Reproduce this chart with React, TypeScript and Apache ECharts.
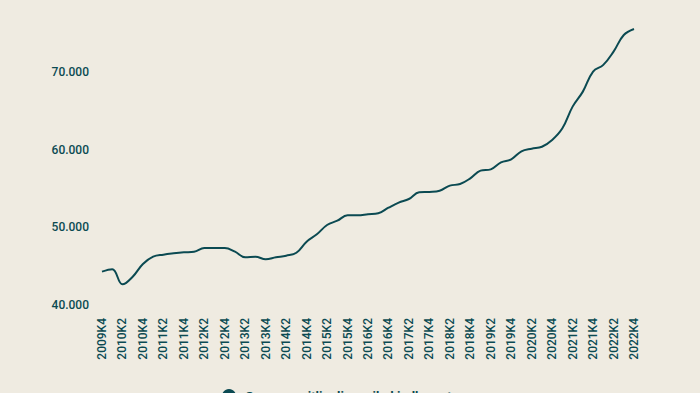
import React, { useEffect, useRef } from "react";
import * as echarts from "echarts";

const years = [2009, 2010, 2011, 2012, 2013, 2014, 2015, 2016, 2017, 2018, 2019, 2020, 2021, 2022];
const quarters: string[] = [];
years.forEach((y) => {
  for (let q = 1; q <= 4; q++) {
    if (y === 2009 && q < 4) continue;
    quarters.push(`${y}K${q}`);
  }
});

const values = [
  44290, 44600, 42660, 43640, 45280, 46220, 46480, 46650, 46780, 46860,
  47330, 47330, 47330, 46860, 46140, 46220, 45880, 46140, 46350, 46730,
  48150, 49100, 50300, 50850, 51540, 51540, 51670, 51800, 52520, 53170,
  53640, 54500, 54550, 54710, 55360, 55570, 56300, 57290, 57460, 58360,
  58750, 59780, 60120, 60370, 61240, 62740, 65530, 67460, 70040, 70900,
  72610, 74750, 75520,
];

const seriesName = "Gennemsnitlig disponibel indkomst";
const yTicks = [40000, 50000, 60000, 70000];

export default function App() {
  const ref = useRef<HTMLDivElement>(null);
  useEffect(() => {
    document.body.style.margin = "0";
    document.body.style.background = "#efebe1";
    if (!ref.current) return;
    const chart = echarts.init(ref.current, null, { renderer: "svg" });
    const color = "#0b4a52";
    chart.setOption({
      animation: false,
      backgroundColor: "#efebe1",
      textStyle: { fontFamily: "Roboto" },
      grid: { left: 102, right: 66, top: 29, bottom: 88 },
      legend: {
        top: 384,
        left: 217,
        icon: "circle",
        itemWidth: 14,
        itemHeight: 14,
        itemGap: 10,
        textStyle: { color, fontSize: 13, fontWeight: "bold", fontFamily: "Roboto", padding: [0, 0, 0, 4] },
        data: [seriesName],
      },
      xAxis: {
        type: "category",
        data: quarters,
        boundaryGap: false,
        axisLine: { show: false },
        axisTick: { show: false },
        axisLabel: {
          rotate: 90,
          interval: 1,
          margin: 13,
          color,
          fontSize: 12,
          fontWeight: 500,
        },
      },
      yAxis: {
        type: "value",
        min: 40000,
        max: 75520,
        interval: 10000,
        splitLine: { show: false },
        axisLine: { show: false },
        axisTick: { show: false },
        axisLabel: {
          margin: 13,
          color,
          fontSize: 12,
          fontWeight: 500,
          showMaxLabel: false,
          formatter: (v: number) =>
            yTicks.includes(v) ? v.toLocaleString("de-DE") : "",
        },
      },
      series: [
        {
          name: seriesName,
          type: "line",
          data: values,
          smooth: 0.4,
          symbol: "none",
          lineStyle: { color, width: 2 },
          itemStyle: { color },
        },
      ],
    });
    return () => chart.dispose();
  }, []);
  return <div ref={ref} style={{ width: 700, height: 393 }} />;
}
